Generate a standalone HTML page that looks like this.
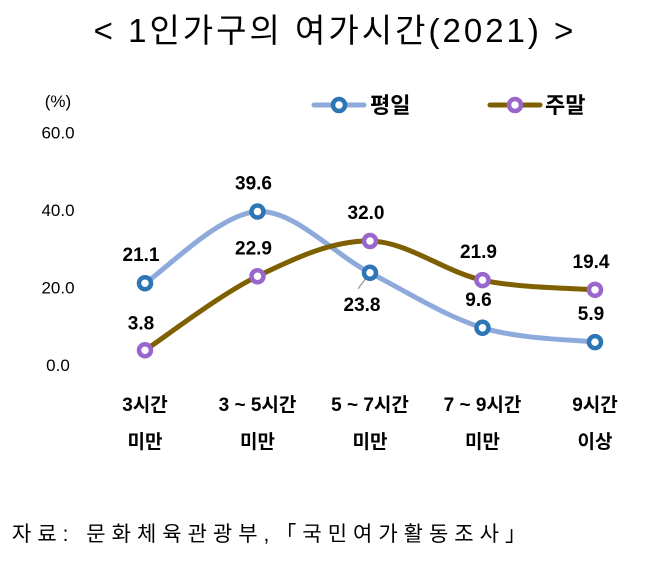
<!DOCTYPE html>
<html><head><meta charset="utf-8">
<style>
body{margin:0;background:#fff;}
svg text{font-family:"Liberation Sans","Noto Sans CJK KR",sans-serif;}
</style></head>
<body>
<svg id="chart" width="654" height="558" viewBox="0 0 654 558" xmlns="http://www.w3.org/2000/svg">
<text x="335" y="42" text-anchor="middle" font-size="33" letter-spacing="3" fill="#000">&lt; 1인가구의  여가시간(2021) &gt;</text>
<text x="58" y="107" text-anchor="middle" font-size="17" fill="#000">(%)</text>
<g id="yticks"></g>
<g id="xlabels"></g>
<g id="series"></g>
<g>
 <g>
  <line x1="314" y1="105" x2="364" y2="105" stroke="#8eaadb" stroke-width="5" stroke-linecap="round"/>
  <circle cx="339" cy="105" r="6" fill="#fff" stroke="#2e75b6" stroke-width="4.5"/>
  <text x="370" y="113" font-size="22" font-weight="bold">평일</text>
 </g>
 <g>
  <line x1="490" y1="105" x2="540" y2="105" stroke="#7f6000" stroke-width="5" stroke-linecap="round"/>
  <circle cx="515" cy="105" r="6" fill="#fff" stroke="#9966cc" stroke-width="4.5"/>
  <text x="545" y="113" font-size="22" font-weight="bold">주말</text>
 </g>
</g>
<text x="12" y="541" font-size="21" letter-spacing="6" fill="#000">자료: 문화체육관광부,「국민여가활동조사」</text>
</svg>
<script>
const categories1 = ["3시간","3 ~ 5시간","5 ~ 7시간","7 ~ 9시간","9시간"];
const categories2 = ["미만","미만","미만","미만","이상"];
const weekday = [21.1, 39.6, 23.8, 9.6, 5.9];
const weekend = [3.8, 22.9, 32.0, 21.9, 19.4];
const yTicks = [0, 20, 40, 60];
const yTickLabels = ["0.0","20.0","40.0","60.0"];

const NS = "http://www.w3.org/2000/svg";
const x = i => 145 + i * 112.5;
const y = v => 365 - v * 3.875;
function mk(tag, attrs, parent){const e=document.createElementNS(NS,tag);for(const k in attrs)e.setAttribute(k,attrs[k]);parent.appendChild(e);return e;}

const yg = document.getElementById('yticks');
yTicks.forEach((t,i)=>{
  const e = mk('text',{x:58,y:y(t)+6,'text-anchor':'middle','font-size':17},yg);
  e.textContent = yTickLabels[i];
  
  
});
const xg = document.getElementById('xlabels');
categories1.forEach((c,i)=>{
  const a = mk('text',{x:x(i),y:411,'text-anchor':'middle','font-size':19,'font-weight':'bold'},xg);
  a.textContent = c;
  
  
  const b = mk('text',{x:x(i),y:448,'text-anchor':'middle','font-size':19,'font-weight':'bold'},xg);
  b.textContent = categories2[i];
  
  
});

function smooth(pts){
  let d = `M${pts[0][0]},${pts[0][1]}`;
  for(let i=0;i<pts.length-1;i++){
    const p0=pts[Math.max(i-1,0)],p1=pts[i],p2=pts[i+1],p3=pts[Math.min(i+2,pts.length-1)];
    const c1=[p1[0]+(p2[0]-p0[0])/6,p1[1]+(p2[1]-p0[1])/6];
    const c2=[p2[0]-(p3[0]-p1[0])/6,p2[1]-(p3[1]-p1[1])/6];
    d+=` C${c1[0]},${c1[1]} ${c2[0]},${c2[1]} ${p2[0]},${p2[1]}`;
  }
  return d;
}
const sg = document.getElementById('series');
function drawSeries(vals, line, name){
  const pts = vals.map((v,i)=>[x(i),y(v)]);
  const p = mk('path',{d:smooth(pts),fill:'none',stroke:line,'stroke-width':5,'stroke-linecap':'round'},sg);
  
  
  return pts;
}
const wdPts = drawSeries(weekday,'#8eaadb','weekday');
const wePts = drawSeries(weekend,'#7f6000','weekend');
const ld = mk('line',{x1:x(2)-3,y1:y(weekday[2])+4,x2:x(2)-12,y2:y(weekday[2])+16,stroke:'#a5a5a5','stroke-width':1.5},sg);


function markers(pts, vals, color, name, dys){
  pts.forEach((p,i)=>{
    const c = mk('circle',{cx:p[0],cy:p[1],r:6,fill:'#fff',stroke:color,'stroke-width':4.5},sg);
    
    
    const t = mk('text',{x:p[0]-4+(i===2&&name==='weekday'?-4:0),y:p[1]+dys[i],'text-anchor':'middle','font-size':19,'font-weight':'bold'},sg);
    t.textContent = vals[i].toFixed(1);
    
    
  });
}
markers(wdPts, weekday, '#2e75b6', 'weekday', [-22,-22,38,-22,-22]);
markers(wePts, weekend, '#9966cc', 'weekend', [-21,-22,-22,-22,-22]);
</script>
</body></html>
